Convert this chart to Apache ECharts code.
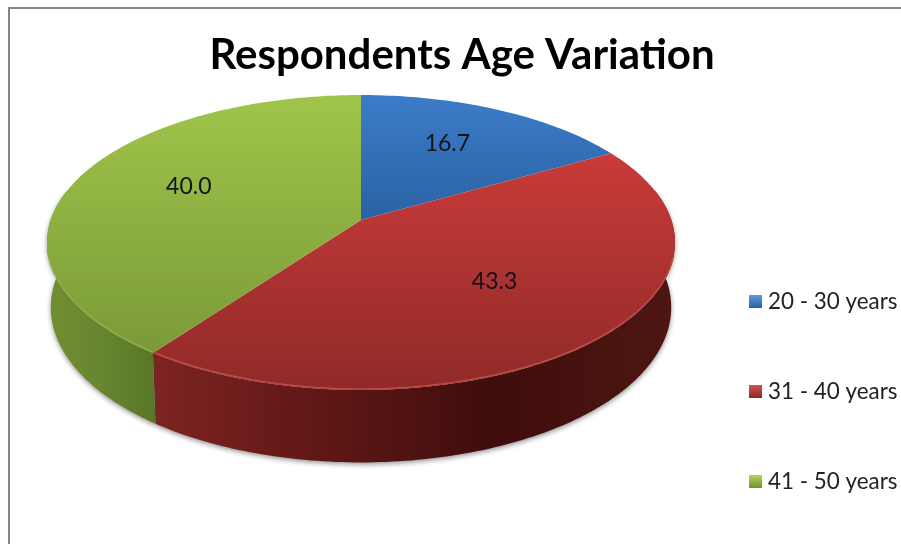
<!DOCTYPE html>
<html><head><meta charset="utf-8">
<style>html,body{margin:0;padding:0;background:#fff}#c{width:901px;height:544px}</style>
<script src="https://cdn.jsdelivr.net/npm/echarts@6/dist/echarts.min.js"></script>
</head><body><div id="c"></div>
<script>
const titleText = 'Respondents Age Variation';
const categories = ['20 - 30 years', '31 - 40 years', '41 - 50 years'];
const values = [16.7, 43.3, 40.0];
const topColors = [['#3c7cc8', '#2a62a4'], ['#c93b39', '#8f2a28'], ['#a0c54a', '#7b9a38']];
const rimColors = ['#5a93d6', '#bd4a46', '#8dae42'];
const sideStops = [
  [[0, '#2a5f9e'], [1, '#1d4472']],
  [[0, '#7e2422'], [0.25, '#661a18'], [0.65, '#3f0d0c'], [1, '#4e1612']],
  [[0, '#71902f'], [0.5, '#688530'], [1, '#5a7727']]
];
const legendStops = [['#5b9be0', '#28609f'], ['#d8504c', '#8c2725'], ['#b5d65a', '#728f30']];

// Perspective disc: projection of the unit circle on screen
const P = { cx: 361, cy: 220, a: 310.3, b: 144, k: 0.1525 };
const total = values.reduce((s, v) => s + v, 0);
const rad = d => d * Math.PI / 180;
function proj(deg, r) {
  const s = Math.sin(rad(deg)), c = Math.cos(rad(deg));
  const w = 1 + P.k * r * c;
  return [P.cx + P.a * r * s / w, P.cy - P.b * r * c / w];
}
function low(deg) {
  const p = proj(deg, 1), c = Math.cos(rad(deg));
  return [P.cx + (p[0] - P.cx) * 0.988, p[1] + 63.5 - 9 * c];
}
function arc(a0, a1, fn) {
  const pts = [], n = Math.max(2, Math.ceil(Math.abs(a1 - a0)));
  for (let i = 0; i <= n; i++) pts.push(fn(a0 + (a1 - a0) * i / n));
  return pts;
}
function grad(x, y, x2, y2, stops) {
  return { type: 'linear', x, y, x2, y2, global: true,
    colorStops: stops.map(s => ({ offset: s[0], color: s[1] })) };
}
function renderSlice(params, api) {
  const i = params.seriesIndex, v = api.value(0);
  let before = 0;
  for (let j = 0; j < i; j++) before += values[j];
  const a0 = before / total * 360, a1 = a0 + v / total * 360;
  const children = [];
  const vis0 = Math.max(a0, 78), vis1 = Math.min(a1, 282);
  if (vis1 > vis0) {
    const edge = arc(vis0, vis1, d => proj(d, 1));
    const xs = edge.map(p => p[0]);
    const band = edge.concat(arc(vis1, vis0, low));
    children.push({ type: 'polygon', shape: { points: band }, z2: 1, silent: true,
      style: { fill: grad(Math.min(...xs), 0, Math.max(...xs), 0, sideStops[i]),
        shadowColor: 'rgba(60,60,60,0.55)', shadowBlur: 5, shadowOffsetX: 0, shadowOffsetY: 2 } });
  }
  const top = [proj(a0, 0)].concat(arc(a0, a1, d => proj(d, 1)));
  const ys = top.map(p => p[1]);
  children.push({ type: 'polygon', shape: { points: top }, z2: 2, silent: true,
    style: { fill: grad(0, Math.min(...ys), 0, Math.max(...ys), topColors[i].map((c, n) => [n, c])) } });
  const rim0 = Math.max(a0, 105), rim1 = Math.min(a1, 258);
  if (rim1 > rim0) {
    children.push({ type: 'polyline', shape: { points: arc(rim0, rim1, d => proj(d, 1)).map(p => [p[0], p[1] - 1]) }, z2: 3, silent: true,
      style: { fill: null, stroke: rimColors[i], lineWidth: 1.5 } });
  }
  const mid = proj((a0 + a1) / 2, 0.6);
  children.push({ type: 'text', z2: 4, silent: true,
    style: { text: v.toFixed(1), x: mid[0], y: mid[1] - 7, align: 'center', verticalAlign: 'middle',
      font: '23px Lato, sans-serif', fill: '#101418' } });
  return { type: 'group', children };
}
const chart = echarts.init(document.getElementById('c'), null, { renderer: 'canvas', width: 901, height: 544 });
chart.setOption({
  animation: false,
  backgroundColor: '#ffffff',
  title: { text: titleText, left: 457, top: 29, textAlign: 'center',
    textStyle: { fontFamily: 'Lato, sans-serif', fontWeight: 'bold', fontSize: 42, color: '#000' } },
  legend: {
    orient: 'vertical', left: 744, top: 285.5, itemWidth: 13, itemHeight: 13, itemGap: 68,
    selectedMode: false, icon: 'rect',
    textStyle: { fontFamily: 'Lato, sans-serif', fontSize: 22.4, color: '#222', padding: [0, 0, 0, 1] },
    data: categories.map((name, i) => ({ name,
      itemStyle: { color: { type: 'linear', x: 0, y: 0, x2: 0, y2: 1,
        colorStops: [{ offset: 0, color: legendStops[i][0] }, { offset: 1, color: legendStops[i][1] }] } } }))
  },
  graphic: [
    { type: 'polyline', silent: true, z: -1,
      shape: { points: [[9, 544], [9, 8], [901, 8]] },
      style: { fill: null, stroke: '#858585', lineWidth: 2 } }
  ],
  series: categories.map((name, i) => ({
    type: 'custom', name, coordinateSystem: 'none', renderItem: renderSlice,
    itemStyle: { color: topColors[i][0] }, data: [[values[i]]], silent: true
  }))
});
</script></body></html>
